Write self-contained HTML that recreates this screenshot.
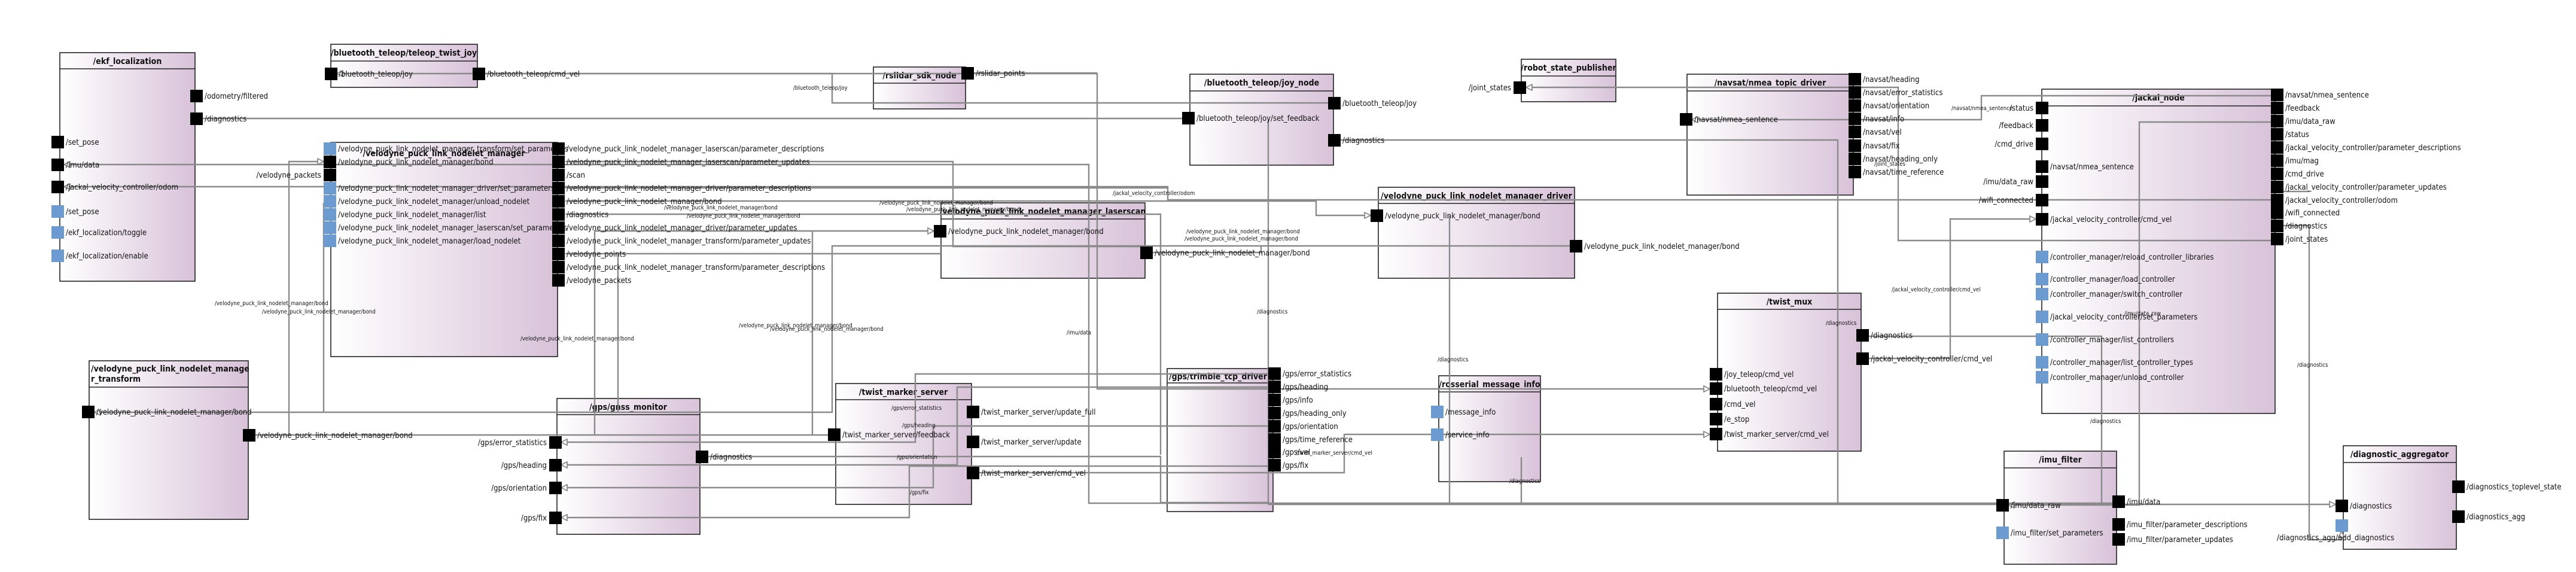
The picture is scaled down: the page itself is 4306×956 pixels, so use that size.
<!DOCTYPE html>
<html><head><meta charset="utf-8"><style>
html,body{margin:0;padding:0;background:#fff;}
svg{display:block;}
text{font-family:"DejaVu Sans Condensed","DejaVu Sans","Liberation Sans",sans-serif;fill:#111;}
.t{font-size:14px;font-weight:bold;}
.l{font-size:13px;}
.e{font-size:9.5px;}
.b{fill:url(#g);stroke:#222;stroke-width:1.6;}
.h{stroke:#222;stroke-width:1.4;}
.p{fill:#000;}
.q{fill:#6c9bd2;}
.c{fill:none;stroke:#8a8a8a;stroke-width:2.4;}
.a{fill:none;stroke:#8a8a8a;stroke-width:2.4;marker-end:url(#ar);}
</style></head><body>
<svg width="4306" height="956" viewBox="0 0 4306 956" xmlns="http://www.w3.org/2000/svg">
<defs>
<linearGradient id="g" x1="0" y1="0" x2="1" y2="0"><stop offset="0" stop-color="#ffffff"/><stop offset="1" stop-color="#d8c2d9"/></linearGradient>
<marker id="ar" markerWidth="12" markerHeight="12" refX="11" refY="6" orient="auto" markerUnits="userSpaceOnUse"><path d="M1,1 L11,6 L1,11 Z" fill="#fff" stroke="#8a8a8a" stroke-width="1.8"/></marker>
</defs>

<!-- NODES -->
<rect class="b" x="100" y="88" width="226" height="382"/><line class="h" x1="100" y1="115" x2="326" y2="115"/><text class="t" x="213" y="107" text-anchor="middle">/ekf_localization</text>
<rect class="b" x="553" y="74" width="245" height="72"/><line class="h" x1="553" y1="102" x2="798" y2="102"/><text class="t" x="675" y="93" text-anchor="middle">/bluetooth_teleop/teleop_twist_joy</text>
<rect class="b" x="553" y="238" width="379" height="358"/><text class="t" x="742" y="261" text-anchor="middle">/velodyne_puck_link_nodelet_manager</text>
<rect class="b" x="149" y="603" width="266" height="265"/><line class="h" x1="149" y1="647" x2="415" y2="647"/><text class="t" x="152" y="621">/velodyne_puck_link_nodelet_manage</text><text class="t" x="152" y="638">r_transform</text>
<rect class="b" x="1460" y="112" width="154" height="70"/><line class="h" x1="1460" y1="139" x2="1614" y2="139"/><text class="t" x="1537" y="131" text-anchor="middle">/rslidar_sdk_node</text>
<rect class="b" x="1573" y="339" width="341" height="126"/><line class="h" x1="1573" y1="366" x2="1914" y2="366"/><text class="t" x="1743" y="358" text-anchor="middle">/velodyne_puck_link_nodelet_manager_laserscan</text>
<rect class="b" x="931" y="666" width="239" height="227"/><line class="h" x1="931" y1="693" x2="1170" y2="693"/><text class="t" x="1050" y="685" text-anchor="middle">/gps/gnss_monitor</text>
<rect class="b" x="1397" y="641" width="227" height="202"/><line class="h" x1="1397" y1="668" x2="1624" y2="668"/><text class="t" x="1510" y="660" text-anchor="middle">/twist_marker_server</text>
<rect class="b" x="1989" y="124" width="240" height="152"/><line class="h" x1="1989" y1="152" x2="2229" y2="152"/><text class="t" x="2109" y="143" text-anchor="middle">/bluetooth_teleop/joy_node</text>
<rect class="b" x="2543" y="99" width="158" height="71"/><line class="h" x1="2543" y1="127" x2="2701" y2="127"/><text class="t" x="2622" y="118" text-anchor="middle">/robot_state_publisher</text>
<rect class="b" x="2304" y="313" width="328" height="152"/><line class="h" x1="2304" y1="340" x2="2632" y2="340"/><text class="t" x="2468" y="332" text-anchor="middle">/velodyne_puck_link_nodelet_manager_driver</text>
<rect class="b" x="1951" y="616" width="177" height="239"/><line class="h" x1="1951" y1="640" x2="2128" y2="640"/><text class="t" x="2036" y="634" text-anchor="middle">/gps/trimble_tcp_driver</text>
<rect class="b" x="2405" y="628" width="170" height="177"/><line class="h" x1="2405" y1="655" x2="2575" y2="655"/><text class="t" x="2490" y="647" text-anchor="middle">/rosserial_message_info</text>
<rect class="b" x="2820" y="124" width="278" height="202"/><line class="h" x1="2820" y1="152" x2="3098" y2="152"/><text class="t" x="2959" y="143" text-anchor="middle">/navsat/nmea_topic_driver</text>
<rect class="b" x="2871" y="490" width="240" height="264"/><line class="h" x1="2871" y1="517" x2="3111" y2="517"/><text class="t" x="2991" y="509" text-anchor="middle">/twist_mux</text>
<rect class="b" x="3413" y="149" width="390" height="542"/><line class="h" x1="3413" y1="177" x2="3803" y2="177"/><text class="t" x="3608" y="168" text-anchor="middle">/jackal_node</text>
<rect class="b" x="3350" y="754" width="188" height="189"/><line class="h" x1="3350" y1="782" x2="3538" y2="782"/><text class="t" x="3444" y="773" text-anchor="middle">/imu_filter</text>
<rect class="b" x="3917" y="745" width="189" height="173"/><line class="h" x1="3917" y1="773" x2="4106" y2="773"/><text class="t" x="4011" y="764" text-anchor="middle">/diagnostic_aggregator</text>

<!-- EDGES -->
<path class="a" d="M811,123 H1834 V650 H2858"/>
<path class="a" d="M2220,172 H1391 V123 H563"/>
<path class="c" d="M338,198 H1976"/>
<path class="c" d="M2241,234 H3072 V843"/>
<path class="a" d="M3796,334 H1952 V312 H107"/>
<path class="a" d="M3796,160 H3312 V200 H2828"/>
<path class="a" d="M3796,402 H3173 V146 H2551"/>
<path class="a" d="M3796,204 H3576 V844 H3357"/>
<path class="a" d="M3531,841 H1820 V275 H107"/>
<path class="c" d="M3123,562 H3513 V843"/>
<path class="a" d="M3816,377 H3860 V902 H3914 V888"/>
<path class="c" d="M3807,320 H3860"/>
<path class="a" d="M3123,599 H3260 V366 H3403"/>
<path class="a" d="M1637,790 H2247 V726 H2858"/>
<path class="a" d="M2120,625 H1530 V739 H938"/>
<path class="a" d="M2120,647 H1600 V777 H938"/>
<path class="a" d="M2120,712 H1560 V815 H938"/>
<path class="a" d="M2120,779 H1520 V865 H938"/>
<path class="c" d="M1183,763 H1940 V840 H2120"/>
<path class="c" d="M2120,200 V843"/>
<path class="c" d="M2423,360 V843"/>
<path class="c" d="M2543,764 V843"/>
<path class="a" d="M2120,843 H3904"/>
<path class="a" d="M945,336 H2200 V360 H2291"/>
<path class="a" d="M994,727 V386 H1561"/>
<path class="c" d="M1358,386 V727"/>
<path class="c" d="M427,727 H1384"/>
<path class="a" d="M2624,411 H1391 V689 H158"/>
<path class="a" d="M483,727 V270 H541"/>
<path class="c" d="M541,339 V688"/>
<path class="c" d="M945,358 H1940 V760"/>
<path class="c" d="M945,424 H1573"/>
<path class="c" d="M1033,424 V689"/>
<path class="c" d="M945,270 H1593 V412 H1927"/>
<path class="c" d="M1927,422 H2108 V411"/>
<path class="c" d="M1627,122 H1834"/>
<path class="c" d="M945,314 H1952"/>

<!-- EDGE LABELS -->
<text class="e" x="1326" y="150">/bluetooth_teleop/joy</text>
<text class="e" x="359" y="510">/velodyne_puck_link_nodelet_manager/bond</text>
<text class="e" x="438" y="524">/velodyne_puck_link_nodelet_manager/bond</text>
<text class="e" x="870" y="569">/velodyne_puck_link_nodelet_manager/bond</text>
<text class="e" x="1110" y="350">/velodyne_puck_link_nodelet_manager/bond</text>
<text class="e" x="1148" y="364">/velodyne_puck_link_nodelet_manager/bond</text>
<text class="e" x="1470" y="342">/velodyne_puck_link_nodelet_manager/bond</text>
<text class="e" x="1515" y="353">/velodyne_puck_link_nodelet_manager/bond</text>
<text class="e" x="1235" y="547">/velodyne_puck_link_nodelet_manager/bond</text>
<text class="e" x="1287" y="553">/velodyne_puck_link_nodelet_manager/bond</text>
<text class="e" x="1983" y="390">/velodyne_puck_link_nodelet_manager/bond</text>
<text class="e" x="1980" y="402">/velodyne_puck_link_nodelet_manager/bond</text>
<text class="e" x="1783" y="559">/imu/data</text>
<text class="e" x="1860" y="326">/jackal_velocity_controller/odom</text>
<text class="e" x="2101" y="524">/diagnostics</text>
<text class="e" x="2403" y="604">/diagnostics</text>
<text class="e" x="2523" y="807">/diagnostics</text>
<text class="e" x="3052" y="543">/diagnostics</text>
<text class="e" x="3494" y="707">/diagnostics</text>
<text class="e" x="3840" y="613">/diagnostics</text>
<text class="e" x="1490" y="685">/gps/error_statistics</text>
<text class="e" x="1508" y="714">/gps/heading</text>
<text class="e" x="1499" y="767">/gps/orientation</text>
<text class="e" x="1521" y="826">/gps/fix</text>
<text class="e" x="2166" y="760">/twist_marker_server/cmd_vel</text>
<text class="e" x="3262" y="184">/navsat/nmea_sentence</text>
<text class="e" x="3133" y="277">/joint_states</text>
<text class="e" x="3162" y="487">/jackal_velocity_controller/cmd_vel</text>
<text class="e" x="3551" y="527">/imu/data_raw</text>

<!-- PORTS: ekf -->
<rect class="p" x="318" y="150" width="21" height="21"/><text class="l" x="342" y="165">/odometry/filtered</text>
<rect class="p" x="318" y="188" width="21" height="21"/><text class="l" x="342" y="203">/diagnostics</text>
<rect class="p" x="86" y="227" width="21" height="21"/><text class="l" x="110" y="242">/set_pose</text>
<rect class="p" x="86" y="265" width="21" height="21"/><text class="l" x="110" y="280">/imu/data</text>
<rect class="p" x="86" y="302" width="21" height="21"/><text class="l" x="110" y="317">/jackal_velocity_controller/odom</text>
<rect class="q" x="86" y="343" width="21" height="21"/><text class="l" x="110" y="358">/set_pose</text>
<rect class="q" x="86" y="378" width="21" height="21"/><text class="l" x="110" y="393">/ekf_localization/toggle</text>
<rect class="q" x="86" y="417" width="21" height="21"/><text class="l" x="110" y="432">/ekf_localization/enable</text>
<!-- teleop twist joy -->
<rect class="p" x="543" y="113" width="21" height="21"/><text class="l" x="566" y="128">/bluetooth_teleop/joy</text>
<rect class="p" x="790" y="113" width="21" height="21"/><text class="l" x="814" y="128">/bluetooth_teleop/cmd_vel</text>
<!-- vmgr left -->
<rect class="q" x="541" y="238" width="21" height="21"/><text class="l" x="565" y="253">/velodyne_puck_link_nodelet_manager_transform/set_parameters</text>
<rect class="p" x="541" y="260" width="21" height="21"/><text class="l" x="565" y="275">/velodyne_puck_link_nodelet_manager/bond</text>
<rect class="p" x="541" y="282" width="21" height="21"/><text class="l" x="537" y="297" text-anchor="end">/velodyne_packets</text>
<rect class="q" x="541" y="304" width="21" height="21"/><text class="l" x="565" y="319">/velodyne_puck_link_nodelet_manager_driver/set_parameters</text>
<rect class="q" x="541" y="326" width="21" height="21"/><text class="l" x="565" y="341">/velodyne_puck_link_nodelet_manager/unload_nodelet</text>
<rect class="q" x="541" y="348" width="21" height="21"/><text class="l" x="565" y="363">/velodyne_puck_link_nodelet_manager/list</text>
<rect class="q" x="541" y="370" width="21" height="21"/><text class="l" x="565" y="385">/velodyne_puck_link_nodelet_manager_laserscan/set_parameters</text>
<rect class="q" x="541" y="392" width="21" height="21"/><text class="l" x="565" y="407">/velodyne_puck_link_nodelet_manager/load_nodelet</text>
<!-- vmgr right -->
<rect class="p" x="923" y="238" width="21" height="21"/><text class="l" x="947" y="253">/velodyne_puck_link_nodelet_manager_laserscan/parameter_descriptions</text>
<rect class="p" x="923" y="260" width="21" height="21"/><text class="l" x="947" y="275">/velodyne_puck_link_nodelet_manager_laserscan/parameter_updates</text>
<rect class="p" x="923" y="282" width="21" height="21"/><text class="l" x="947" y="297">/scan</text>
<rect class="p" x="923" y="304" width="21" height="21"/><text class="l" x="947" y="319">/velodyne_puck_link_nodelet_manager_driver/parameter_descriptions</text>
<rect class="p" x="923" y="326" width="21" height="21"/><text class="l" x="947" y="341">/velodyne_puck_link_nodelet_manager/bond</text>
<rect class="p" x="923" y="348" width="21" height="21"/><text class="l" x="947" y="363">/diagnostics</text>
<rect class="p" x="923" y="370" width="21" height="21"/><text class="l" x="947" y="385">/velodyne_puck_link_nodelet_manager_driver/parameter_updates</text>
<rect class="p" x="923" y="392" width="21" height="21"/><text class="l" x="947" y="407">/velodyne_puck_link_nodelet_manager_transform/parameter_updates</text>
<rect class="p" x="923" y="414" width="21" height="21"/><text class="l" x="947" y="429">/velodyne_points</text>
<rect class="p" x="923" y="436" width="21" height="21"/><text class="l" x="947" y="451">/velodyne_puck_link_nodelet_manager_transform/parameter_descriptions</text>
<rect class="p" x="923" y="458" width="21" height="21"/><text class="l" x="947" y="473">/velodyne_packets</text>
<!-- transform -->
<rect class="p" x="137" y="678" width="21" height="21"/><text class="l" x="161" y="693">/velodyne_puck_link_nodelet_manager/bond</text>
<rect class="p" x="406" y="717" width="21" height="21"/><text class="l" x="430" y="732">/velodyne_puck_link_nodelet_manager/bond</text>
<!-- rslidar -->
<rect class="p" x="1607" y="112" width="21" height="21"/><text class="l" x="1631" y="127">/rslidar_points</text>
<!-- laserscan -->
<rect class="p" x="1561" y="376" width="21" height="21"/><text class="l" x="1585" y="391">/velodyne_puck_link_nodelet_manager/bond</text>
<rect class="p" x="1906" y="412" width="21" height="21"/><text class="l" x="1930" y="427">/velodyne_puck_link_nodelet_manager/bond</text>
<!-- gnss -->
<rect class="p" x="918" y="729" width="21" height="21"/><text class="l" x="914" y="744" text-anchor="end">/gps/error_statistics</text>
<rect class="p" x="918" y="767" width="21" height="21"/><text class="l" x="914" y="782" text-anchor="end">/gps/heading</text>
<rect class="p" x="918" y="805" width="21" height="21"/><text class="l" x="914" y="820" text-anchor="end">/gps/orientation</text>
<rect class="p" x="918" y="855" width="21" height="21"/><text class="l" x="914" y="870" text-anchor="end">/gps/fix</text>
<rect class="p" x="1163" y="753" width="21" height="21"/><text class="l" x="1187" y="768">/diagnostics</text>
<!-- twist marker -->
<rect class="p" x="1384" y="716" width="21" height="21"/><text class="l" x="1408" y="731">/twist_marker_server/feedback</text>
<rect class="p" x="1616" y="678" width="21" height="21"/><text class="l" x="1640" y="693">/twist_marker_server/update_full</text>
<rect class="p" x="1616" y="728" width="21" height="21"/><text class="l" x="1640" y="743">/twist_marker_server/update</text>
<rect class="p" x="1616" y="780" width="21" height="21"/><text class="l" x="1640" y="795">/twist_marker_server/cmd_vel</text>
<!-- joy node -->
<rect class="p" x="2220" y="162" width="21" height="21"/><text class="l" x="2244" y="177">/bluetooth_teleop/joy</text>
<rect class="p" x="2220" y="224" width="21" height="21"/><text class="l" x="2244" y="239">/diagnostics</text>
<rect class="p" x="1976" y="187" width="21" height="21"/><text class="l" x="2000" y="202">/bluetooth_teleop/joy/set_feedback</text>
<!-- rsp -->
<rect class="p" x="2530" y="136" width="21" height="21"/><text class="l" x="2526" y="151" text-anchor="end">/joint_states</text>
<!-- driver -->
<rect class="p" x="2291" y="350" width="21" height="21"/><text class="l" x="2315" y="365">/velodyne_puck_link_nodelet_manager/bond</text>
<rect class="p" x="2624" y="401" width="21" height="21"/><text class="l" x="2648" y="416">/velodyne_puck_link_nodelet_manager/bond</text>
<!-- trimble -->
<rect class="p" x="2120" y="614" width="21" height="21"/><text class="l" x="2144" y="629">/gps/error_statistics</text>
<rect class="p" x="2120" y="636" width="21" height="21"/><text class="l" x="2144" y="651">/gps/heading</text>
<rect class="p" x="2120" y="658" width="21" height="21"/><text class="l" x="2144" y="673">/gps/info</text>
<rect class="p" x="2120" y="680" width="21" height="21"/><text class="l" x="2144" y="695">/gps/heading_only</text>
<rect class="p" x="2120" y="702" width="21" height="21"/><text class="l" x="2144" y="717">/gps/orientation</text>
<rect class="p" x="2120" y="724" width="21" height="21"/><text class="l" x="2144" y="739">/gps/time_reference</text>
<rect class="p" x="2120" y="745" width="21" height="21"/><text class="l" x="2144" y="760">/gps/vel</text>
<rect class="p" x="2120" y="767" width="21" height="21"/><text class="l" x="2144" y="782">/gps/fix</text>
<!-- rosserial -->
<rect class="q" x="2392" y="678" width="21" height="21"/><text class="l" x="2416" y="693">/message_info</text>
<rect class="q" x="2392" y="716" width="21" height="21"/><text class="l" x="2416" y="731">/service_info</text>
<!-- navsat -->
<rect class="p" x="2808" y="189" width="21" height="21"/><text class="l" x="2832" y="204">/navsat/nmea_sentence</text>
<rect class="p" x="3090" y="122" width="21" height="21"/><text class="l" x="3114" y="137">/navsat/heading</text>
<rect class="p" x="3090" y="144" width="21" height="21"/><text class="l" x="3114" y="159">/navsat/error_statistics</text>
<rect class="p" x="3090" y="166" width="21" height="21"/><text class="l" x="3114" y="181">/navsat/orientation</text>
<rect class="p" x="3090" y="188" width="21" height="21"/><text class="l" x="3114" y="203">/navsat/info</text>
<rect class="p" x="3090" y="210" width="21" height="21"/><text class="l" x="3114" y="225">/navsat/vel</text>
<rect class="p" x="3090" y="233" width="21" height="21"/><text class="l" x="3114" y="248">/navsat/fix</text>
<rect class="p" x="3090" y="255" width="21" height="21"/><text class="l" x="3114" y="270">/navsat/heading_only</text>
<rect class="p" x="3090" y="277" width="21" height="21"/><text class="l" x="3114" y="292">/navsat/time_reference</text>
<!-- twist mux -->
<rect class="p" x="3103" y="550" width="21" height="21"/><text class="l" x="3127" y="565">/diagnostics</text>
<rect class="p" x="3103" y="589" width="21" height="21"/><text class="l" x="3127" y="604">/jackal_velocity_controller/cmd_vel</text>
<rect class="p" x="2858" y="615" width="21" height="21"/><text class="l" x="2882" y="630">/joy_teleop/cmd_vel</text>
<rect class="p" x="2858" y="639" width="21" height="21"/><text class="l" x="2882" y="654">/bluetooth_teleop/cmd_vel</text>
<rect class="p" x="2858" y="665" width="21" height="21"/><text class="l" x="2882" y="680">/cmd_vel</text>
<rect class="p" x="2858" y="690" width="21" height="21"/><text class="l" x="2882" y="705">/e_stop</text>
<rect class="p" x="2858" y="715" width="21" height="21"/><text class="l" x="2882" y="730">/twist_marker_server/cmd_vel</text>
<!-- jackal left -->
<rect class="p" x="3403" y="170" width="21" height="21"/><text class="l" x="3399" y="185" text-anchor="end">/status</text>
<rect class="p" x="3403" y="199" width="21" height="21"/><text class="l" x="3399" y="214" text-anchor="end">/feedback</text>
<rect class="p" x="3403" y="230" width="21" height="21"/><text class="l" x="3399" y="245" text-anchor="end">/cmd_drive</text>
<rect class="p" x="3403" y="268" width="21" height="21"/><text class="l" x="3427" y="283">/navsat/nmea_sentence</text>
<rect class="p" x="3403" y="293" width="21" height="21"/><text class="l" x="3399" y="308" text-anchor="end">/imu/data_raw</text>
<rect class="p" x="3403" y="324" width="21" height="21"/><text class="l" x="3399" y="339" text-anchor="end">/wifi_connected</text>
<rect class="p" x="3403" y="356" width="21" height="21"/><text class="l" x="3427" y="371">/jackal_velocity_controller/cmd_vel</text>
<rect class="q" x="3403" y="419" width="21" height="21"/><text class="l" x="3427" y="434">/controller_manager/reload_controller_libraries</text>
<rect class="q" x="3403" y="456" width="21" height="21"/><text class="l" x="3427" y="471">/controller_manager/load_controller</text>
<rect class="q" x="3403" y="481" width="21" height="21"/><text class="l" x="3427" y="496">/controller_manager/switch_controller</text>
<rect class="q" x="3403" y="519" width="21" height="21"/><text class="l" x="3427" y="534">/jackal_velocity_controller/set_parameters</text>
<rect class="q" x="3403" y="557" width="21" height="21"/><text class="l" x="3427" y="572">/controller_manager/list_controllers</text>
<rect class="q" x="3403" y="595" width="21" height="21"/><text class="l" x="3427" y="610">/controller_manager/list_controller_types</text>
<rect class="q" x="3403" y="620" width="21" height="21"/><text class="l" x="3427" y="635">/controller_manager/unload_controller</text>
<!-- jackal right -->
<rect class="p" x="3796" y="148" width="21" height="21"/><text class="l" x="3820" y="163">/navsat/nmea_sentence</text>
<rect class="p" x="3796" y="170" width="21" height="21"/><text class="l" x="3820" y="185">/feedback</text>
<rect class="p" x="3796" y="192" width="21" height="21"/><text class="l" x="3820" y="207">/imu/data_raw</text>
<rect class="p" x="3796" y="214" width="21" height="21"/><text class="l" x="3820" y="229">/status</text>
<rect class="p" x="3796" y="236" width="21" height="21"/><text class="l" x="3820" y="251">/jackal_velocity_controller/parameter_descriptions</text>
<rect class="p" x="3796" y="258" width="21" height="21"/><text class="l" x="3820" y="273">/imu/mag</text>
<rect class="p" x="3796" y="280" width="21" height="21"/><text class="l" x="3820" y="295">/cmd_drive</text>
<rect class="p" x="3796" y="302" width="21" height="21"/><text class="l" x="3820" y="317">/jackal_velocity_controller/parameter_updates</text>
<rect class="p" x="3796" y="324" width="21" height="21"/><text class="l" x="3820" y="339">/jackal_velocity_controller/odom</text>
<rect class="p" x="3796" y="345" width="21" height="21"/><text class="l" x="3820" y="360">/wifi_connected</text>
<rect class="p" x="3796" y="367" width="21" height="21"/><text class="l" x="3820" y="382">/diagnostics</text>
<rect class="p" x="3796" y="389" width="21" height="21"/><text class="l" x="3820" y="404">/joint_states</text>
<!-- imu filter -->
<rect class="p" x="3337" y="834" width="21" height="21"/><text class="l" x="3361" y="849">/imu/data_raw</text>
<rect class="q" x="3337" y="880" width="21" height="21"/><text class="l" x="3361" y="895">/imu_filter/set_parameters</text>
<rect class="p" x="3531" y="828" width="21" height="21"/><text class="l" x="3555" y="843">/imu/data</text>
<rect class="p" x="3531" y="866" width="21" height="21"/><text class="l" x="3555" y="881">/imu_filter/parameter_descriptions</text>
<rect class="p" x="3531" y="891" width="21" height="21"/><text class="l" x="3555" y="906">/imu_filter/parameter_updates</text>
<!-- diag agg -->
<rect class="p" x="3904" y="835" width="21" height="21"/><text class="l" x="3928" y="850">/diagnostics</text>
<rect class="q" x="3904" y="868" width="21" height="21"/><text class="l" x="3806" y="903">/diagnostics_agg/add_diagnostics</text>
<rect class="p" x="4099" y="803" width="21" height="21"/><text class="l" x="4123" y="818">/diagnostics_toplevel_state</text>
<rect class="p" x="4099" y="853" width="21" height="21"/><text class="l" x="4123" y="868">/diagnostics_agg</text>
</svg>
</body></html>
